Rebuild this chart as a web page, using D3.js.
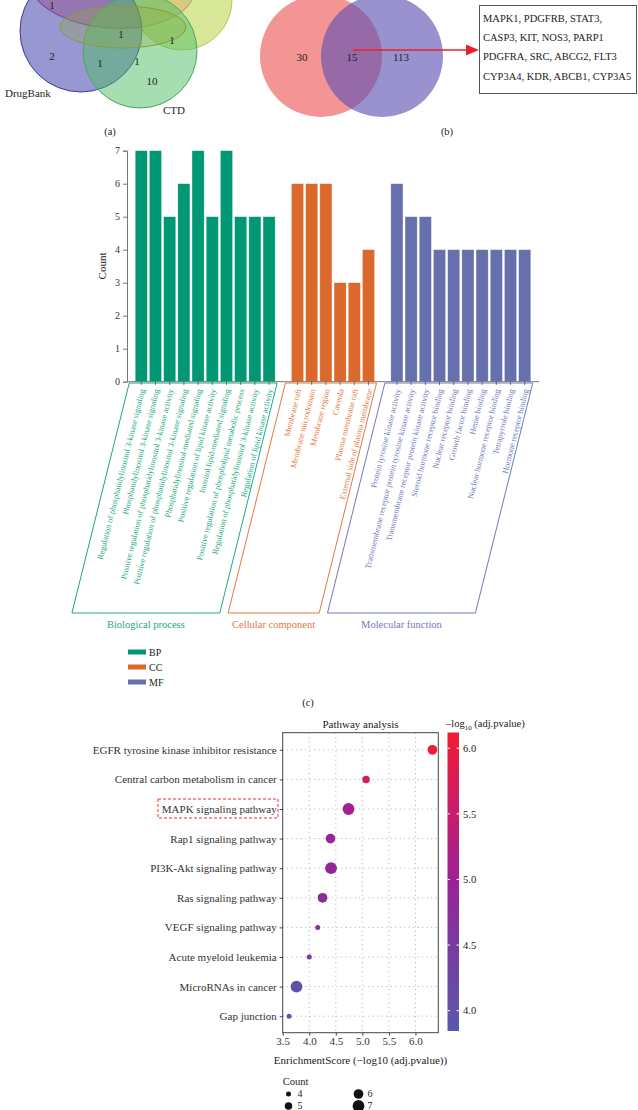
<!DOCTYPE html>
<html>
<head>
<meta charset="utf-8">
<script src="https://cdn.jsdelivr.net/npm/d3@7"></script>
<style>
  body { margin: 0; background: #fff; }
  text { font-family: "Liberation Serif", "Times New Roman", serif; fill: #222; }
</style>
</head>
<body>
<div id="chart"></div>
<script>
// ---- data ----
const vennACounts = ["1", "1", "1", "2", "1", "1", "10"];
const vennASets = ["DrugBank", "CTD"];
const vennBCounts = [30, 15, 113];
const sharedGenes = [
  "MAPK1, PDGFRB, STAT3,",
  "CASP3, KIT, NOS3, PARP1",
  "PDGFRA, SRC, ABCG2, FLT3",
  "CYP3A4, KDR, ABCB1, CYP3A5"
];

const bpTerms = [
  "Regulation of phosphatidylinositol 3-kinase signaling",
  "Phosphatidylinositol 3-kinase signaling",
  "Positive regulation of phosphatidylinositol 3-kinase activity",
  "Positive regulation of phosphatidylinositol 3-kinase signaling",
  "Phosphatidylinositol-mediated signaling",
  "Positive regulation of lipid kinase activity",
  "Inositol lipid-mediated signaling",
  "Positive regulation of phospholipid metabolic process",
  "Regulation of phosphatidylinositol 3-kinase activity",
  "Regulation of lipid kinase activity"
];
const bpCounts = [7, 7, 5, 6, 7, 5, 7, 5, 5, 5];
const ccTerms = [
  "Membrane raft",
  "Membrane microdomain",
  "Membrane region",
  "Caveola",
  "Plasma membrane raft",
  "External side of plasma membrane"
];
const ccCounts = [6, 6, 6, 3, 3, 4];
const mfTerms = [
  "Protein tyrosine kinase activity",
  "Transmembrane receptor protein tyrosine kinase activity",
  "Transmembrane receptor protein kinase activity",
  "Steroid hormone receptor binding",
  "Nuclear receptor binding",
  "Growth factor binding",
  "Heme binding",
  "Nuclear hormone receptor binding",
  "Tetrapyrrole binding",
  "Hormone receptor binding"
];
const mfCounts = [6, 5, 5, 4, 4, 4, 4, 4, 4, 4];
const countTicks = [0, 1, 2, 3, 4, 5, 6, 7];

const pathways = [
  "EGFR tyrosine kinase inhibitor resistance",
  "Central carbon metabolism in cancer",
  "MAPK signaling pathway",
  "Rap1 signaling pathway",
  "PI3K-Akt signaling pathway",
  "Ras signaling pathway",
  "VEGF signaling pathway",
  "Acute myeloid leukemia",
  "MicroRNAs in cancer",
  "Gap junction"
];
const enrichScore = [6.32, 5.07, 4.74, 4.40, 4.41, 4.25, 4.16, 4.00, 3.76, 3.62];
const logAdjP = [6.1, 5.75, 5.1, 4.9, 4.9, 4.75, 4.6, 4.5, 4.0, 3.9];
const pathCounts = [6, 5, 7, 6, 7, 6, 4, 4, 7, 4];
const scoreTicks = [3.5, 4.0, 4.5, 5.0, 5.5, 6.0];
const colorTicks = [4.0, 4.5, 5.0, 5.5, 6.0];
const sizeLegend = [4, 5, 6, 7];

// ---- svg ----
const svg = d3.select("#chart").append("svg")
  .attr("width", 638)
  .attr("height", 1110);

// ===== (a) four-set venn =====
const vennA = svg.append("g").attr("class", "venn-a");
const shapesA = [
  { cx: 112, cy: -14, rx: 82, ry: 42, rot: 4, fill: "#ef6f7a", op: 0.55, stroke: "#c02060" },
  { cx: 182, cy: 0, rx: 50, ry: 50, rot: 0, fill: "#c4da62", op: 0.65, stroke: "#b2ca55" },
  { cx: 81, cy: 31, rx: 61, ry: 61, rot: 0, fill: "#4f4cb0", op: 0.58, stroke: "#3a3a9a" },
  { cx: 140, cy: 51, rx: 57, ry: 57, rot: 0, fill: "#4dbd66", op: 0.5, stroke: "#44aa5a" },
  { cx: 123, cy: 27, rx: 63, ry: 21, rot: 0, fill: "#90ab3a", op: 0.3, stroke: "#8a9a40" }
];
vennA.selectAll("ellipse")
  .data(shapesA)
  .enter()
  .append("ellipse")
  .attr("cx", d => d.cx)
  .attr("cy", d => d.cy)
  .attr("rx", d => d.rx)
  .attr("ry", d => d.ry)
  .attr("transform", d => `rotate(${d.rot},${d.cx},${d.cy})`)
  .style("fill", d => d.fill)
  .style("fill-opacity", d => d.op)
  .style("stroke", d => d.stroke)
  .style("stroke-width", 1);

const spotsA = [[52, 9], [121, 38], [172, 44], [52, 60], [100, 67], [137, 65], [152, 85]];
vennA.selectAll(".num")
  .data(vennACounts)
  .enter()
  .append("text")
  .attr("class", "num")
  .attr("x", (d, i) => spotsA[i][0])
  .attr("y", (d, i) => spotsA[i][1])
  .attr("text-anchor", "middle")
  .style("font-size", "11px")
  .text(d => d);

vennA.selectAll(".set")
  .data(vennASets)
  .enter()
  .append("text")
  .attr("class", "set")
  .attr("x", (d, i) => [5, 163][i])
  .attr("y", (d, i) => [97, 114][i])
  .style("font-size", "11px")
  .text(d => d);

svg.append("text").attr("x", 110).attr("y", 135).attr("text-anchor", "middle")
  .style("font-size", "10.5px").text("(a)");

// ===== (b) two-set venn =====
const vennB = svg.append("g").attr("class", "venn-b");
vennB.append("circle").attr("cx", 321).attr("cy", 56).attr("r", 61)
  .style("fill", "#ef7272").style("fill-opacity", 0.75);
vennB.append("circle").attr("cx", 382).attr("cy", 56).attr("r", 61)
  .style("fill", "#5a4fb2").style("fill-opacity", 0.62);
vennB.selectAll("text")
  .data(vennBCounts)
  .enter()
  .append("text")
  .attr("x", (d, i) => [302, 352, 401][i])
  .attr("y", 61)
  .attr("text-anchor", "middle")
  .style("font-size", "11px")
  .text(d => d);

vennB.append("line")
  .attr("x1", 353).attr("y1", 50).attr("x2", 467).attr("y2", 50)
  .style("stroke", "#e8202a").style("stroke-width", 1.5);
vennB.append("path")
  .attr("d", "M466,44.5L479,50L466,55.5Z")
  .style("fill", "#e8202a");
vennB.append("rect")
  .attr("x", 479.5).attr("y", 5.5).attr("width", 157).attr("height", 88)
  .style("fill", "none").style("stroke", "#555").style("stroke-width", 1);
vennB.selectAll(".gene")
  .data(sharedGenes)
  .enter()
  .append("text")
  .attr("class", "gene")
  .attr("x", 483)
  .attr("y", (d, i) => 22 + i * 19.2)
  .style("font-size", "10.5px")
  .text(d => d);

svg.append("text").attr("x", 447).attr("y", 135).attr("text-anchor", "middle")
  .style("font-size", "10.5px").text("(b)");

// ===== (c) GO bar chart =====
const groups = [
  { key: "BP", name: "Biological process", terms: bpTerms, counts: bpCounts, colour: "#009874", text: "#1ea784" },
  { key: "CC", name: "Cellular component", terms: ccTerms, counts: ccCounts, colour: "#dc692c", text: "#e27a3e" },
  { key: "MF", name: "Molecular function", terms: mfTerms, counts: mfCounts, colour: "#6570ad", text: "#7078bb" }
];
const bars = [];
const slots = [];
groups.forEach((g, gi) => {
  if (gi > 0) slots.push("gap" + gi);
  g.terms.forEach((t, i) => {
    slots.push(t);
    bars.push({ term: t, count: g.counts[i], group: g });
  });
});

const xBand = d3.scaleBand()
  .domain(slots)
  .range([127, 539])
  .paddingInner(0.15)
  .paddingOuter(0.58);
const yCount = d3.scaleLinear().domain([0, 7]).range([381.7, 150.7]);

const go = svg.append("g").attr("class", "go");

go.selectAll(".bar")
  .data(bars)
  .enter()
  .append("rect")
  .attr("class", "bar")
  .attr("x", d => xBand(d.term))
  .attr("width", xBand.bandwidth())
  .attr("y", d => yCount(d.count))
  .attr("height", d => yCount(0) - yCount(d.count))
  .style("fill", d => d.group.colour)
  .style("stroke", "#fff")
  .style("stroke-opacity", 0.5)
  .style("stroke-width", 0.5);

const yAx = go.append("g")
  .attr("transform", "translate(127,0)")
  .call(d3.axisLeft(yCount).tickValues(countTicks).tickFormat(d3.format("d")).tickSize(4).tickPadding(3));
yAx.select(".domain").style("stroke", "#777");
yAx.selectAll(".tick line").style("stroke", "#777");
yAx.selectAll(".tick text").style("font-family", "Liberation Serif").style("font-size", "10px").style("fill", "#333");

const xAx = go.append("g")
  .attr("transform", "translate(0,381.7)")
  .call(d3.axisBottom(xBand).tickValues(bars.map(d => d.term)).tickSize(3).tickFormat(""));
xAx.select(".domain").attr("d", "M127,0H539").style("stroke", "#777");
xAx.selectAll(".tick line").style("stroke", "#444");

go.append("text")
  .attr("transform", "translate(106,266) rotate(-90)")
  .attr("text-anchor", "middle")
  .style("font-size", "11px")
  .text("Count");

// term labels, slanted
const slant = 76;
go.selectAll(".term")
  .data(bars)
  .enter()
  .append("text")
  .attr("class", "term")
  .attr("transform", d => `translate(${xBand(d.term) + xBand.bandwidth() / 2 + 1},389) rotate(${-slant})`)
  .attr("text-anchor", "end")
  .attr("dy", "0.35em")
  .style("font-size", "8.2px")
  .style("fill", d => d.group.text)
  .text(d => d.term);

// bracket parallelograms
const boxTop = 383;
const boxBottom = 613;
const shift = (boxBottom - boxTop) / Math.tan(slant * Math.PI / 180);
groups.forEach(g => {
  const x0 = xBand(g.terms[0]) - 6;
  const x1 = xBand(g.terms[g.terms.length - 1]) + xBand.bandwidth() + 2;
  go.append("path")
    .attr("d", `M${x0},${boxTop}L${x1},${boxTop}L${x1 - shift},${boxBottom}L${x0 - shift},${boxBottom}Z`)
    .style("fill", "none")
    .style("stroke", g.text)
    .style("stroke-width", 1);
  go.append("text")
    .attr("x", (x0 + x1) / 2 - shift)
    .attr("y", 628)
    .attr("text-anchor", "middle")
    .style("font-size", "10.5px")
    .style("fill", g.text)
    .text(g.name);
});

// legend
const goLegend = go.append("g").attr("transform", "translate(128,652)");
goLegend.selectAll("rect")
  .data(groups)
  .enter()
  .append("rect")
  .attr("x", 0)
  .attr("y", (d, i) => i * 15 - 2.5)
  .attr("width", 18)
  .attr("height", 5)
  .style("fill", d => d.colour);
goLegend.selectAll("text")
  .data(groups)
  .enter()
  .append("text")
  .attr("x", 21)
  .attr("y", (d, i) => i * 15 + 3.5)
  .style("font-size", "10px")
  .text(d => d.key);

svg.append("text").attr("x", 308).attr("y", 706).attr("text-anchor", "middle")
  .style("font-size", "10.5px").text("(c)");

// ===== (d) pathway bubble chart =====
const plot = { left: 282.7, right: 438.3, top: 732.7, bottom: 1032.7 };
const xScore = d3.scaleLinear().domain([3.5, 6.43]).range([plot.left, plot.right]);
const yPath = d3.scalePoint().domain(pathways).range([735, 1031]).padding(0.5);
const colour = d3.scaleLinear()
  .domain([3.85, 4.5, 5.0, 5.5, 6.12])
  .range(["#5a58ac", "#7a3aa0", "#9c2196", "#c61c6c", "#f01e34"])
  .clamp(true);
const rCount = d3.scaleSqrt().domain([4, 7]).range([2.5, 5.9]);

const kegg = svg.append("g").attr("class", "kegg");

// dotted grid
kegg.selectAll(".vgrid")
  .data(scoreTicks.slice(1))
  .enter()
  .append("line")
  .attr("x1", d => xScore(d)).attr("x2", d => xScore(d))
  .attr("y1", plot.top).attr("y2", plot.bottom)
  .style("stroke", "#999").style("stroke-width", 0.8).style("stroke-dasharray", "1,3.5");
kegg.selectAll(".hgrid")
  .data(pathways)
  .enter()
  .append("line")
  .attr("x1", plot.left).attr("x2", plot.right)
  .attr("y1", d => yPath(d)).attr("y2", d => yPath(d))
  .style("stroke", "#999").style("stroke-width", 0.8).style("stroke-dasharray", "1,3.5");

kegg.append("rect")
  .attr("x", plot.left).attr("y", plot.top)
  .attr("width", plot.right - plot.left).attr("height", plot.bottom - plot.top)
  .style("fill", "none").style("stroke", "#444").style("stroke-width", 1);

const pathData = pathways.map((p, i) => ({ name: p, score: enrichScore[i], logp: logAdjP[i], count: pathCounts[i] }));
kegg.selectAll(".bubble")
  .data(pathData)
  .enter()
  .append("circle")
  .attr("class", "bubble")
  .attr("cx", d => xScore(d.score))
  .attr("cy", d => yPath(d.name))
  .attr("r", d => rCount(d.count))
  .style("fill", d => colour(d.logp));

const yAxK = kegg.append("g")
  .attr("transform", `translate(${plot.left},0)`)
  .call(d3.axisLeft(yPath).tickSize(3).tickPadding(3));
yAxK.select(".domain").remove();
yAxK.selectAll(".tick line").style("stroke", "#444");
yAxK.selectAll(".tick text").style("font-family", "Liberation Serif").style("font-size", "11px").style("fill", "#333");

const xAxK = kegg.append("g")
  .attr("transform", `translate(0,${plot.bottom})`)
  .call(d3.axisBottom(xScore).tickValues(scoreTicks).tickFormat(d3.format(".1f")).tickSize(3).tickPadding(2));
xAxK.select(".domain").remove();
xAxK.selectAll(".tick line").style("stroke", "#444");
xAxK.selectAll(".tick text").style("font-family", "Liberation Serif").style("font-size", "11px").style("fill", "#333");

// highlighted MAPK label
const mapkY = yPath("MAPK signaling pathway");
kegg.append("rect")
  .attr("x", 158).attr("y", mapkY - 10)
  .attr("width", 120).attr("height", 19)
  .style("fill", "none").style("stroke", "#e8303a").style("stroke-width", 1)
  .style("stroke-dasharray", "3,2");

kegg.append("text")
  .attr("x", (plot.left + plot.right) / 2).attr("y", 728)
  .attr("text-anchor", "middle").style("font-size", "11px")
  .text("Pathway analysis");
kegg.append("text")
  .attr("x", (plot.left + plot.right) / 2).attr("y", 1064)
  .attr("text-anchor", "middle").style("font-size", "11px")
  .text("EnrichmentScore (\u2212log10 (adj.pvalue))");

// colour bar
const cbar = { x: 447.5, w: 11.5 };
const yColour = d3.scaleLinear().domain([3.845, 6.12]).range([1031, 732.5]);
const grad = svg.append("defs").append("linearGradient")
  .attr("id", "cbar-grad")
  .attr("x1", 0).attr("y1", 1).attr("x2", 0).attr("y2", 0);
d3.range(0, 1.0001, 0.1).forEach(t => {
  const v = yColour.domain()[0] + t * (yColour.domain()[1] - yColour.domain()[0]);
  grad.append("stop").attr("offset", t).attr("stop-color", colour(v));
});
kegg.append("rect")
  .attr("x", cbar.x).attr("y", yColour.range()[1])
  .attr("width", cbar.w).attr("height", yColour.range()[0] - yColour.range()[1])
  .style("fill", "url(#cbar-grad)");
kegg.selectAll(".cb-tick")
  .data(colorTicks)
  .enter()
  .append("g")
  .attr("class", "cb-tick")
  .each(function(d) {
    const g = d3.select(this);
    g.append("line").attr("x1", cbar.x).attr("x2", cbar.x + 2.5)
      .attr("y1", yColour(d)).attr("y2", yColour(d)).style("stroke", "#fff");
    g.append("line").attr("x1", cbar.x + cbar.w - 2.5).attr("x2", cbar.x + cbar.w)
      .attr("y1", yColour(d)).attr("y2", yColour(d)).style("stroke", "#fff");
    g.append("text").attr("x", cbar.x + cbar.w + 4).attr("y", yColour(d)).attr("dy", "0.35em")
      .style("font-size", "10.5px").text(d3.format(".1f")(d));
  });
const cbTitle = kegg.append("text").attr("x", 446).attr("y", 727).style("font-size", "10.5px");
cbTitle.append("tspan").text("\u2013log");
cbTitle.append("tspan").attr("dy", 3).style("font-size", "7px").text("10");
cbTitle.append("tspan").attr("dy", -3).text(" (adj.pvalue)");

// size legend: two columns, second row at the page edge like the source
kegg.append("text").attr("x", 282.7).attr("y", 1085).style("font-size", "10.5px").text("Count");
const sizeItems = kegg.selectAll(".size-item")
  .data(sizeLegend)
  .enter()
  .append("g")
  .attr("class", "size-item")
  .attr("transform", (d, i) => `translate(${i < 2 ? 288.5 : 358.5},${i % 2 === 0 ? 1094 : 1106})`);
sizeItems.append("circle").attr("r", d => rCount(d)).style("fill", "#111");
sizeItems.append("text").attr("x", 9).attr("dy", "0.32em").style("font-size", "10px").text(d => d);
</script>
</body>
</html>
